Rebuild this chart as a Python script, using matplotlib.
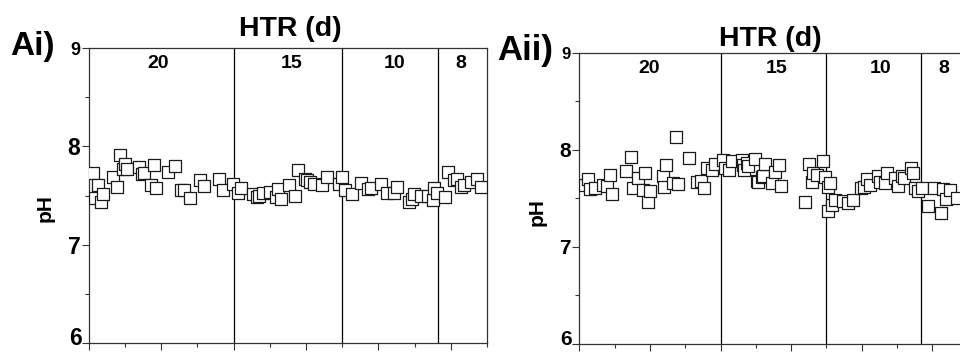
import matplotlib
matplotlib.use("Agg")
import matplotlib.pyplot as plt
from matplotlib.ticker import MultipleLocator

plt.rcParams['font.family'] = ['Liberation Sans', 'DejaVu Sans']
plt.rcParams['font.weight'] = 'bold'

# panel Ai: day, pH
ai_day = [1.3, 1.7, 2.6, 3.3, 4.0, 6.8, 7.9, 8.6, 9.4, 10.0, 10.6, 13.9, 14.8, 15.3,
          17.2, 18.0, 18.5, 21.9, 23.9, 25.6, 26.2, 27.9, 30.7, 31.8, 35.9, 37.1,
          39.8, 41.2, 42.0, 45.3, 46.6, 47.0, 48.1, 50.2, 51.8, 52.4, 53.2, 55.3,
          57.1, 57.9, 59.6, 60.2, 61.0, 62.3, 64.5, 65.8, 69.2, 70.0, 70.9, 72.7,
          75.2, 77.0, 78.0, 80.7, 82.4, 84.4, 85.1, 88.5, 89.4, 89.9, 91.7, 93.7,
          95.2, 95.4, 96.3, 98.4, 99.3, 100.9, 101.8, 102.8, 103.7, 105.5, 107.2, 108.4]
ai_ph = [7.725, 7.47, 7.61, 7.43, 7.52, 7.685, 7.59, 7.91, 7.77, 7.82, 7.77, 7.79, 7.715, 7.73,
         7.61, 7.81, 7.58, 7.735, 7.80, 7.56, 7.56, 7.47, 7.66, 7.60, 7.67, 7.56,
         7.62, 7.53, 7.58, 7.515, 7.48, 7.49, 7.53, 7.54, 7.48, 7.57, 7.46, 7.61,
         7.50, 7.76, 7.665, 7.66, 7.64, 7.62, 7.61, 7.69, 7.62, 7.69, 7.56, 7.52,
         7.63, 7.57, 7.58, 7.62, 7.53, 7.53, 7.59, 7.43, 7.46, 7.515, 7.49, 7.49,
         7.45, 7.58, 7.53, 7.48, 7.735, 7.66, 7.67, 7.59, 7.61, 7.64, 7.665, 7.59]

# panel Aii: day, pH
aii_day = [1.6, 2.4, 3.0, 4.4, 6.8, 7.8, 8.7, 9.3, 13.2, 14.6, 15.3, 16.5, 18.0, 18.6,
           19.4, 20.0, 23.8, 23.9, 24.6, 26.6, 27.3, 27.9, 31.2, 33.3, 34.5, 35.4,
           36.1, 37.5, 38.4, 40.8, 41.3, 42.5, 43.2, 46.0, 46.5, 46.7, 47.4, 47.9,
           49.8, 50.2, 50.7, 51.7, 52.1, 52.6, 54.5, 55.4, 56.6, 57.1, 63.9, 65.2,
           66.0, 66.3, 67.2, 69.1, 69.6, 70.5, 70.5, 71.0, 71.7, 72.4, 74.8, 76.2,
           77.6, 79.9, 80.7, 81.4, 82.3, 84.7, 85.2, 86.6, 87.1, 89.4, 90.4, 91.3,
           92.0, 94.0, 94.6, 95.1, 95.9, 97.2, 98.9, 100.6, 102.5, 103.1, 103.9,
           105.0, 107.0]
aii_ph = [7.64, 7.695, 7.595, 7.60, 7.64, 7.63, 7.74, 7.54, 7.78, 7.92, 7.61, 7.71, 7.585, 7.76,
          7.46, 7.575, 7.73, 7.62, 7.84, 7.655, 8.13, 7.645, 7.91, 7.67, 7.68, 7.61,
          7.81, 7.79, 7.85, 7.89, 7.81, 7.79, 7.88, 7.89, 7.84, 7.79, 7.86, 7.835,
          7.90, 7.68, 7.67, 7.72, 7.73, 7.85, 7.655, 7.77, 7.84, 7.63, 7.46, 7.85,
          7.67, 7.76, 7.74, 7.88, 7.72, 7.62, 7.37, 7.655, 7.43, 7.48, 7.47, 7.45,
          7.48, 7.61, 7.62, 7.695, 7.64, 7.73, 7.67, 7.655, 7.76, 7.705, 7.63, 7.73,
          7.705, 7.81, 7.76, 7.60, 7.57, 7.60, 7.42, 7.61, 7.35, 7.59, 7.49,
          7.585, 7.50]

htr_labels = ['20', '15', '10', '8']
ai_label_day = [19.1, 56.0, 84.4, 102.8]
aii_label_day = [19.7, 55.9, 85.2, 103.1]
ai_bounds = [40, 70, 96.6]
aii_bounds = [40, 70, 96.7]
yticks = [6, 7, 8, 9]


def draw_panel(ax, days, ph, bounds, label_days, tick_fs, nine_fs):
    ax.scatter(days, ph, marker='s', s=66, facecolors='white',
               edgecolors='#1a1a1a', linewidths=0.9, zorder=3)
    for b in bounds:
        ax.axvline(b, color='black', lw=0.9, zorder=2)
    for lab, d in zip(htr_labels, label_days):
        ax.text(d, 8.84, lab, ha='center', va='center', fontsize=14,
                fontweight='bold')
    ax.set_xlim(0, 110)
    ax.set_ylim(6, 9)
    ax.set_yticks(yticks)
    # bottom label drawn separately so it stays inside the figure
    ax.set_yticklabels(['' if t == yticks[0] else str(t) for t in yticks])
    ax.annotate(str(yticks[0]), xy=(0, yticks[0]),
                xycoords=('axes fraction', 'data'),
                xytext=(-7, 4), textcoords='offset pixels',
                ha='right', va='center', fontsize=tick_fs, fontweight='bold',
                annotation_clip=False)
    ax.yaxis.set_minor_locator(MultipleLocator(0.5))
    ax.xaxis.set_major_locator(MultipleLocator(20))
    ax.xaxis.set_minor_locator(MultipleLocator(10))
    ax.set_xticklabels([])
    ax.tick_params(axis='both', which='major', direction='out', length=5,
                   width=0.8, color='#333333', pad=1, labelsize=tick_fs)
    ax.tick_params(axis='both', which='minor', direction='out', length=3,
                   width=0.8, color='#333333')
    for lab in ax.get_yticklabels():
        lab.set_fontweight('bold')
        if lab.get_text() == '9':
            lab.set_fontsize(nine_fs)
    for sp in ax.spines.values():
        sp.set_linewidth(0.9)
        sp.set_color('#333333')


fig = plt.figure(figsize=(9.6, 3.52), dpi=100)
ax1 = fig.add_axes([0.0924, 0.0256, 0.4149, 0.838])
ax2 = fig.add_axes([0.6034, 0.0236, 0.4046, 0.8267])

draw_panel(ax1, ai_day, ai_ph, ai_bounds, ai_label_day, 16.5, 13)
draw_panel(ax2, aii_day, aii_ph, aii_bounds, aii_label_day, 15, 12)

W, H = 960.0, 352.0
fig.text(10 / W, 1 - 55 / H, 'Ai)', fontsize=24, fontweight='bold',
         ha='left', va='baseline')
fig.text(497 / W, 1 - 60 / H, 'Aii)', fontsize=25, fontweight='bold',
         ha='left', va='baseline')
fig.text(290 / W, 1 - 36 / H, 'HTR (d)', fontsize=20.5, fontweight='bold',
         ha='center', va='baseline')
fig.text(770 / W, 1 - 46 / H, 'HTR (d)', fontsize=20.5, fontweight='bold',
         ha='center', va='baseline')
fig.text(45 / W, 1 - 208 / H, 'pH', fontsize=15, fontweight='bold',
         rotation=90, ha='center', va='center')
fig.text(537 / W, 1 - 212 / H, 'pH', fontsize=15, fontweight='bold',
         rotation=90, ha='center', va='center')

fig.savefig('out.png', dpi=100)
